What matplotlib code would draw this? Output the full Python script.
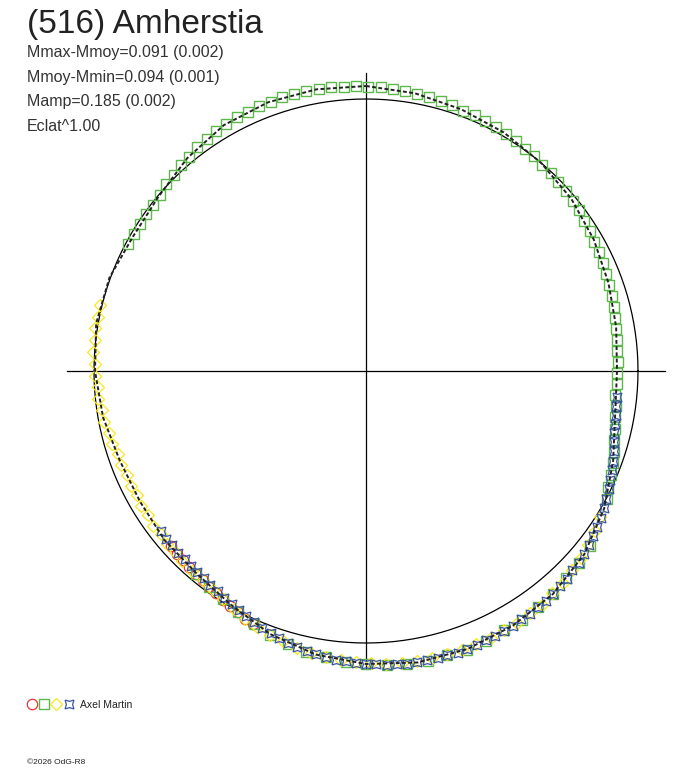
import numpy as np
import matplotlib.pyplot as plt
from matplotlib.legend_handler import HandlerTuple

# rotation phase (degrees, clockwise from top) and relative magnitude (outward = brighter)
fit_phase = [0, 10, 20, 30, 40, 50, 60, 70, 80, 90, 100, 110, 120, 130, 140, 150, 160, 170,
             180, 190, 200, 210, 220, 230, 240, 250, 260, 270, 280, 290, 300, 310, 320, 330, 340, 350]
fit_mag = [0.052, 0.040, 0.026, 0.014, 0.000, -0.016, -0.036, -0.056, -0.072, -0.084, -0.076, -0.036,
           0.012, 0.052, 0.076, 0.088, 0.096, 0.096, 0.084, 0.064, 0.032, -0.008, -0.032, -0.036,
           -0.044, -0.040, -0.020, -0.004, 0.008, 0.004, -0.012, -0.004, 0.024, 0.048, 0.056, 0.056]

green_phase = [298, 300.5, 303, 305.5, 308, 310.5, 313, 315.5, 318, 320.5, 323, 325.5, 328, 330.5, 333,
               335.5, 338, 340.5, 343, 345.5, 348, 350.5, 353, 355.5, 358, 0.5, 3, 5.5, 8, 10.5, 13,
               15.5, 18, 20.5, 23, 25.5, 28, 30.5, 33, 35.5, 38, 40.5, 43, 45.5, 48, 50.5, 53, 55.5,
               58, 60.5, 63, 65.5, 68, 70.5, 73, 75.5, 78, 80.5, 83, 85.5, 88, 90.5, 93, 95.5, 98,
               100.5, 103, 105.5, 108, 110.5, 113, 115.5, 118,
               128, 132, 136, 140, 144, 148, 152, 156, 160, 164, 168, 172, 176, 180, 184, 188, 192,
               196, 200, 204, 208, 212, 216, 220]
green_mag = [-0.009, -0.011, -0.008, -0.006, -0.007, -0.002, 0.006, 0.010, 0.020, 0.023, 0.033, 0.036,
             0.045, 0.047, 0.052, 0.052, 0.056, 0.055, 0.058, 0.055, 0.057, 0.054, 0.056, 0.052, 0.054,
             0.050, 0.050, 0.045, 0.044, 0.038, 0.038, 0.031, 0.030, 0.024, 0.024, 0.018, 0.017, 0.012,
             0.011, 0.004, 0.004, -0.002, -0.003, -0.010, -0.012, -0.017, -0.021, -0.028, -0.031,
             -0.038, -0.041, -0.048, -0.051, -0.057, -0.060, -0.065, -0.068, -0.073, -0.075, -0.080,
             -0.081, -0.084, -0.082, -0.087, -0.077, -0.075, -0.065, -0.058, -0.045, -0.035, -0.023,
             -0.014, 0.002,
             0.048, 0.060, 0.064, 0.078, 0.080, 0.088, 0.086, 0.094, 0.098, 0.094, 0.098, 0.094, 0.092,
             0.082, 0.080, 0.068, 0.060, 0.048, 0.036, 0.018, 0.002, -0.012, -0.020, -0.030]

blue_phase = [96, 98, 100, 102, 104, 106, 108, 110, 112, 114, 116, 118, 120, 122, 124, 126, 128, 130,
              132, 134, 136, 138, 140, 142, 144, 146, 148, 150, 152, 154, 156, 158, 160, 162, 164, 166,
              168, 170, 172, 174, 176, 178, 180, 182, 184, 186, 188, 190, 192, 194, 196, 198, 200, 202,
              204, 206, 208, 210, 212, 214, 216, 218, 220, 222, 224, 226, 228, 230, 232]
blue_mag = [-0.079, -0.080, -0.072, -0.070, -0.064, -0.056, -0.047, -0.038, -0.026, -0.020, -0.008,
            0.000, 0.010, 0.022, 0.026, 0.036, 0.044, 0.050, 0.058, 0.060, 0.068, 0.070, 0.074, 0.080,
            0.080, 0.086, 0.084, 0.090, 0.088, 0.092, 0.090, 0.096, 0.094, 0.098, 0.094, 0.097, 0.095,
            0.094, 0.095, 0.090, 0.091, 0.086, 0.083, 0.082, 0.076, 0.074, 0.066, 0.062, 0.056, 0.050,
            0.044, 0.036, 0.028, 0.022, 0.010, 0.004, -0.006, -0.014, -0.018, -0.026, -0.028, -0.036,
            -0.038, -0.040, -0.044, -0.042, -0.046, -0.044, -0.048]

yellow_phase = [224, 226.5, 229, 231.5, 234, 236.5, 239, 241.5, 244, 246.5, 249, 251.5, 254, 256.5,
                259, 261.5, 264, 266.5, 269, 271.5, 274, 276.5, 279, 281.5, 284,
                122, 125, 128, 131, 134, 137, 140, 143, 146, 149, 152, 155, 158, 161, 164, 167, 170,
                173, 176, 179, 182, 185, 188, 191, 194, 197, 200, 203, 206, 209, 212, 215, 218, 221]
yellow_mag = [-0.030, -0.036, -0.032, -0.040, -0.036, -0.044, -0.040, -0.046, -0.040, -0.044, -0.038,
              -0.040, -0.032, -0.030, -0.020, -0.020, -0.010, -0.012, -0.002, -0.004, 0.006, 0.002,
              0.010, 0.004, 0.010,
              0.016, 0.030, 0.040, 0.054, 0.058, 0.070, 0.072, 0.082, 0.082, 0.088, 0.086, 0.092, 0.090,
              0.094, 0.090, 0.092, 0.090, 0.088, 0.086, 0.080, 0.078, 0.072, 0.068, 0.060, 0.054, 0.042,
              0.034, 0.024, 0.014, 0.000, -0.012, -0.018, -0.028, -0.030]

red_phase = [204, 206, 208, 210, 212, 214, 216, 218, 220, 222, 224, 226, 228]
red_mag = [0.020, 0.014, 0.006, -0.002, -0.010, -0.016, -0.022, -0.026, -0.030, -0.032, -0.036,
           -0.036, -0.040]

R_SCALE = 250 / 272  # plot radius per magnitude (mean circle has radius 1)


def to_xy(phase, mag):
    th = np.radians(np.asarray(phase, dtype=float))
    r = 1 + np.asarray(mag) * R_SCALE
    return r * np.sin(th), r * np.cos(th)


fig = plt.figure(figsize=(6.88, 7.68), dpi=100)
ax = fig.add_axes([0, 0, 1, 1])
ax.set_xlim(-366 / 272, 322 / 272)
ax.set_ylim(-397 / 272, 371 / 272)
ax.axis('off')

# mean circle and cross
t = np.linspace(0, 2 * np.pi, 361)
ax.plot(np.cos(t), np.sin(t), color='black', lw=0.9)
ax.plot([-1.1, 1.1], [0, 0], color='black', lw=0.9)
ax.plot([0, 0], [-1.095, 1.095], color='black', lw=0.9)

x, y = to_xy(red_phase, red_mag)
h_red, = ax.plot(x, y, 'o', ls='none', mfc='none', mec='#e8343a', ms=7.5, mew=0.9)
x, y = to_xy(green_phase, green_mag)
h_green, = ax.plot(x, y, 's', ls='none', mfc='none', mec='#5cb84a', ms=7.2, mew=1.0)
x, y = to_xy(yellow_phase, yellow_mag)
h_yellow, = ax.plot(x, y, 'D', ls='none', mfc='none', mec='#f7e81a', ms=6.5, mew=0.9)
x, y = to_xy(blue_phase, blue_mag)
h_blue, = ax.plot(x, y, marker=(4, 1, 45), ls='none', mfc='none', mec='#3a55a4', ms=9, mew=0.9)

# fitted curve
fx, fy = to_xy(fit_phase + fit_phase[:1], fit_mag + fit_mag[:1])
ax.plot(fx, fy, color='#222222', lw=1.4, ls=(0, (2, 1.2)))

fig.text(27 / 688, 1 - 33 / 768, '(516) Amherstia', fontsize=24, color='#222222',
         family='Liberation Sans', va='baseline')
info = ['Mmax-Mmoy=0.091 (0.002)', 'Mmoy-Mmin=0.094 (0.001)', 'Mamp=0.185 (0.002)', 'Eclat^1.00']
for i, s in enumerate(info):
    fig.text(27 / 688, 1 - (57 + 24.7 * i) / 768, s, fontsize=11.5, color='#333333',
             family='Liberation Sans', va='baseline')

leg = fig.legend(handles=[(h_red, h_green, h_yellow, h_blue)], labels=['Axel Martin'],
                 handler_map={tuple: HandlerTuple(ndivide=None, pad=0.1)},
                 loc='center left', bbox_to_anchor=(17 / 688, 1 - 705 / 768),
                 frameon=False, handlelength=4.6, handletextpad=0.5,
                 prop={'family': 'Liberation Sans', 'size': 7.5})
for txt in leg.get_texts():
    txt.set_color('#222222')

fig.text(27 / 688, 1 - 762 / 768, '©2026 OdG-R8', fontsize=6, color='#222222',
         family='Liberation Sans', va='center')

fig.savefig('out.png', dpi=100)
